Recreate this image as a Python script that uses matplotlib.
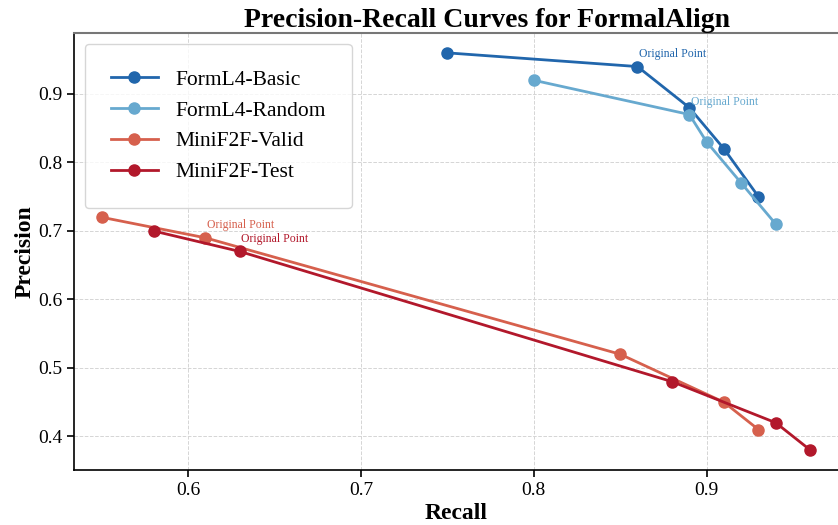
import matplotlib
matplotlib.use('Agg')
import matplotlib.pyplot as plt

plt.rcParams['font.family'] = ['Liberation Serif', 'DejaVu Serif']

names = ['FormL4-Basic', 'FormL4-Random', 'MiniF2F-Valid', 'MiniF2F-Test']
colors = ['#2166ac', '#67a9cf', '#d6604d', '#b2182b']

basic_recall = [0.75, 0.86, 0.89, 0.91, 0.93]
basic_prec = [0.96, 0.94, 0.88, 0.82, 0.75]
random_recall = [0.80, 0.89, 0.90, 0.92, 0.94]
random_prec = [0.92, 0.87, 0.83, 0.77, 0.71]
valid_recall = [0.55, 0.61, 0.85, 0.91, 0.93]
valid_prec = [0.72, 0.69, 0.52, 0.45, 0.41]
test_recall = [0.58, 0.63, 0.88, 0.94, 0.96]
test_prec = [0.70, 0.67, 0.48, 0.42, 0.38]

# index of the "Original Point" in each curve
orig_idx = [1, 1, 1, 1]

recalls = [basic_recall, random_recall, valid_recall, test_recall]
precs = [basic_prec, random_prec, valid_prec, test_prec]

fig = plt.figure(figsize=(8.38, 5.25), dpi=100)
ax = fig.add_axes([74/838, 55/525, 1 - 74/838, (470 - 33)/525])

for name, c, r, p, k in zip(names, colors, recalls, precs, orig_idx):
    ax.plot(r, p, '-o', color=c, lw=2, ms=8, label=name)
    ax.annotate('Original Point', (r[k], p[k]), xytext=(1, 5),
                textcoords='offset points', ha='left', va='bottom',
                fontsize=8.5, color=c)

ax.set_xlim(0.534, 0.976)
ax.set_ylim(0.351, 0.989)
ax.set_xticks([0.6, 0.7, 0.8, 0.9])
ax.set_yticks([0.4, 0.5, 0.6, 0.7, 0.8, 0.9])

ax.grid(True, ls='--', color='#d5d5d5', lw=0.7)
ax.set_axisbelow(True)
ax.tick_params(direction='out', length=5, width=1.2, labelsize=14, colors='black')
for s in ['left', 'bottom']:
    ax.spines[s].set_color('black')
    ax.spines[s].set_linewidth(1.2)
ax.spines['top'].set_color('#777777')
ax.spines['top'].set_linewidth(1.5)
ax.spines['right'].set_visible(False)

ax.set_xlabel('Recall', fontsize=17, fontweight='bold', labelpad=3)
ax.set_ylabel('Precision', fontsize=17, fontweight='bold', labelpad=2)
ax.set_title('Precision-Recall Curves for FormalAlign', fontsize=20,
             fontweight='bold', pad=3, x=0.54)

leg = ax.legend(loc='upper left', fontsize=15.5, borderpad=1.2, labelspacing=0.5,
                handlelength=2.2, frameon=True, fancybox=True)
leg.get_frame().set_edgecolor('#cccccc')

fig.savefig('out.png', dpi=100)
